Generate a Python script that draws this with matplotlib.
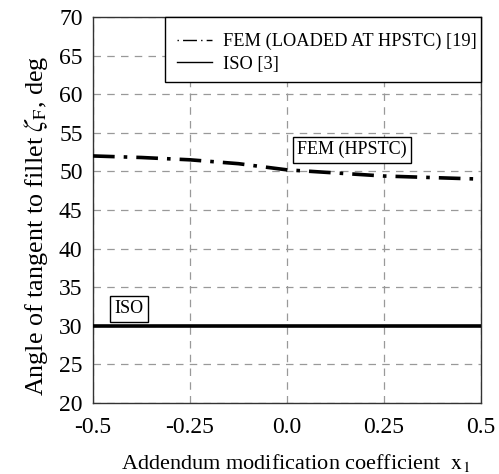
import matplotlib
matplotlib.use("Agg")
import matplotlib.pyplot as plt
from matplotlib.lines import Line2D
from matplotlib.patches import Rectangle

plt.rcParams['font.family'] = ['Liberation Serif', 'DejaVu Serif']
plt.rcParams['mathtext.fontset'] = 'stix'

x_vals = [-0.5, -0.375, -0.25, -0.125, 0.0, 0.125, 0.25, 0.375, 0.5]
fem_vals = [52.0, 51.8, 51.5, 51.0, 50.2, 49.8, 49.4, 49.2, 49.0]
iso_vals = [30.0] * len(x_vals)
x_ticks = [-0.5, -0.25, 0.0, 0.25, 0.5]
x_tick_labels = ['-0.5', '-0.25', '0.0', '0.25', '0.5']
y_ticks = [20, 25, 30, 35, 40, 45, 50, 55, 60, 65, 70]

fig = plt.figure(figsize=(4.99, 4.74), dpi=100)
ax = fig.add_axes([93/499, 1 - 403/474, (481-93)/499, (403-17)/474])

ax.plot(x_vals, fem_vals, color='black', lw=2.6, linestyle=(0, (6, 2.5, 1, 2.5)), zorder=3)
ax.plot(x_vals, iso_vals, color='black', lw=2.6, linestyle='-', zorder=3)

ax.set_xlim(-0.5, 0.5)
ax.set_ylim(20, 70)
ax.set_xticks(x_ticks)
ax.set_xticklabels(x_tick_labels)
ax.set_yticks(y_ticks)
ax.tick_params(length=0, labelsize=17)
ax.tick_params(axis='x', pad=10)
ax.tick_params(axis='y', pad=7.5)
ax.grid(True, color='#999999', linestyle=(0, (6, 5)), lw=0.9)
for s in ax.spines.values():
    s.set_color('#333333')
    s.set_linewidth(1.0)

ax.set_xlabel(r'Addendum modification coefficient  $\mathrm{x}_1$', fontsize=16)
ax.xaxis.set_label_coords(0.523, -0.127)
ax.set_ylabel(r'Angle of tangent to fillet $\zeta_{\mathrm{F}}$, deg', fontsize=18.8)
ax.yaxis.set_label_coords(-0.11, 0.46)

# legend frame
x0 = (165 - 93) / 388
y0 = (403 - 82) / 386
ax.add_patch(Rectangle((x0, y0), 1 - x0, 1 - y0, transform=ax.transAxes,
                       fc='white', ec='black', lw=1.0, zorder=5, clip_on=False))

handles = [Line2D([], [], color='black', lw=1.0, linestyle=(0, (1, 3, 10, 3))),
           Line2D([], [], color='black', lw=1.0, linestyle='-')]
leg = ax.legend(handles, ['FEM (LOADED AT HPSTC) [19]', 'ISO [3]'],
                loc='upper left', bbox_to_anchor=((177 - 93) / 388, (403 - 33) / 386),
                borderaxespad=0, fontsize=13.2, frameon=False, handlelength=1.9,
                handletextpad=0.6, labelspacing=0.3, borderpad=0)
leg.set_zorder(6)

box = dict(boxstyle='square,pad=0.25', fc='white', ec='black', lw=1.0)
ax.text(0.1675, 52.8, 'FEM (HPSTC)', fontsize=13, ha='center', va='center', bbox=box, zorder=4)
ax.text(-0.407, 32.2, 'ISO', fontsize=13, ha='center', va='center', bbox=box, zorder=4)

fig.savefig('out.png', dpi=100)
